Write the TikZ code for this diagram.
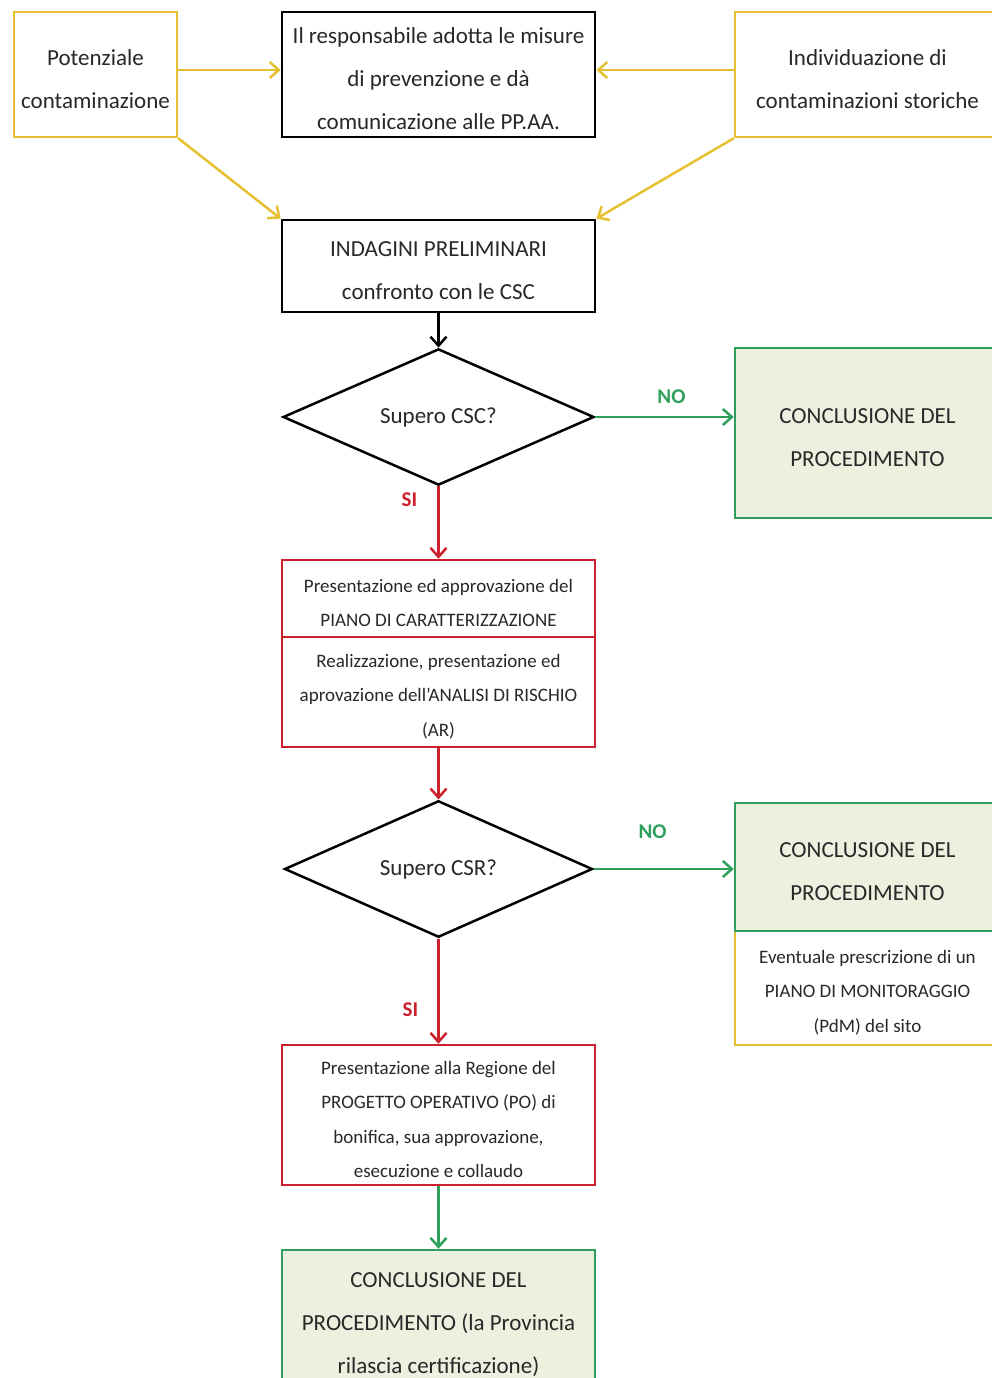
\documentclass[tikz,border=0pt]{standalone}
\usepackage{fontspec}
\setmainfont{Carlito}
\usetikzlibrary{shapes.geometric,arrows.meta}
\definecolor{ylw}{RGB}{230,192,48}
\definecolor{grn}{RGB}{46,160,92}
\definecolor{redc}{RGB}{204,32,44}
\definecolor{fillg}{RGB}{235,241,222}
\definecolor{txt}{RGB}{40,40,40}
\newcommand{\padB}{\rule{0pt}{25pt}}
\newcommand{\padS}{\rule{0pt}{22pt}}
\tikzset{
  base/.style={draw, rectangle, align=center, inner sep=0pt, text=txt, line width=2.5pt},
  blkbox/.style={base, draw=black, line width=2.8pt},
  ylwbox/.style={base, draw=ylw},
  redbox/.style={base, draw=redc},
  grnbox/.style={base, draw=grn, fill=fillg},
  decbox/.style={diamond, draw=black, line width=2.5pt, inner sep=0pt, text=txt, align=center},
  big/.style={font=\fontsize{23}{43}\selectfont},
  small/.style={font=\fontsize{19}{34.5}\selectfont},
  arr/.style={-{Straight Barb[length=9pt,width=16pt]}, line width=2.5pt},
  lbl/.style={font=\fontsize{21}{24}\selectfont\bfseries, inner sep=0pt},
}
\begin{document}
\begin{tikzpicture}[x=1pt,y=-1pt]
\useasboundingbox (0,0) rectangle (992,1378);
\clip (0,0) rectangle (992,1378);
\fill[white] (0,0) rectangle (992,1378);

\node[ylwbox, big, minimum width=163pt, minimum height=125pt] (b1) at (95.5,74.5) {\padB Potenziale\\contaminazione};
\node[blkbox, big, minimum width=313pt, minimum height=125pt] (b2) at (438.5,74.5) {\padB Il responsabile adotta le misure\\di prevenzione e dà\\comunicazione alle PP.AA.};
\node[ylwbox, big, minimum width=265pt, minimum height=125pt] (b3) at (867.5,74.5) {\padB Individuazione di\\contaminazioni storiche};
\node[blkbox, big, minimum width=313pt, minimum height=92pt] (b4) at (438.5,266) {\padB INDAGINI PRELIMINARI\\confronto con le CSC};
\node[decbox, big, minimum width=311pt, minimum height=134pt] (d1) at (438.5,417) {Supero CSC?};
\node[grnbox, big, minimum width=265pt, minimum height=170pt] (g1) at (867.5,433) {\padB CONCLUSIONE DEL\\PROCEDIMENTO};
\node[redbox, small, minimum width=313pt, minimum height=77pt] (r1) at (438.5,598.5) {\padS Presentazione ed approvazione del\\PIANO DI CARATTERIZZAZIONE};
\node[redbox, small, minimum width=313pt, minimum height=110pt] (r2) at (438.5,692) {\padS Realizzazione, presentazione ed\\aprovazione dell'ANALISI DI RISCHIO\\(AR)};
\node[decbox, big, minimum width=308pt, minimum height=133pt] (d2) at (438.5,869) {Supero CSR?};
\node[ylwbox, small, minimum width=265pt, minimum height=114pt] (y4) at (867.5,988) {\padS Eventuale prescrizione di un\\PIANO DI MONITORAGGIO\\(PdM) del sito};
\node[grnbox, big, minimum width=265pt, minimum height=128pt] (g2) at (867.5,867) {\padB CONCLUSIONE DEL\\PROCEDIMENTO};
\node[redbox, small, minimum width=313pt, minimum height=140pt] (r3) at (438.5,1115) {\padS Presentazione alla Regione del\\PROGETTO OPERATIVO (PO) di\\bonifica, sua approvazione,\\esecuzione e collaudo};
\node[grnbox, big, minimum width=313pt, minimum height=140pt] (g3) at (438.5,1320) {\padB CONCLUSIONE DEL\\PROCEDIMENTO (la Provincia\\rilascia certificazione)};

\coordinate (b2w) at ([yshift=4.5pt]b2.west);
\coordinate (b2e) at ([yshift=4.5pt]b2.east);
\draw[arr, ylw] (b2w -| b1.east) -- (b2w);
\draw[arr, ylw] (b2e -| b3.west) -- (b2e);
\draw[arr, ylw] (b1.south east) -- (b4.north west);
\draw[arr, ylw] (b3.south west) -- (b4.north east);
\draw[arr, black] (b4.south) -- (d1.north);
\draw[arr, grn] (d1.east) -- node[lbl, pos=0.55, above=12pt, text=grn] {NO} (d1.east -| g1.west);
\draw[arr, redc] (d1.south) -- node[lbl, pos=0.18, left=20pt, text=redc] {SI} (r1.north);
\draw[arr, redc] (r2.south) -- (d2.north);
\draw[arr, grn] (d2.east) -- node[lbl, pos=0.42, above=29pt, text=grn] {NO} (d2.east -| g2.west);
\draw[arr, redc] (d2.south) -- node[lbl, pos=0.68, left=19pt, text=redc] {SI} (r3.north);
\draw[arr, grn] (r3.south) -- (g3.north);
\end{tikzpicture}
\end{document}
